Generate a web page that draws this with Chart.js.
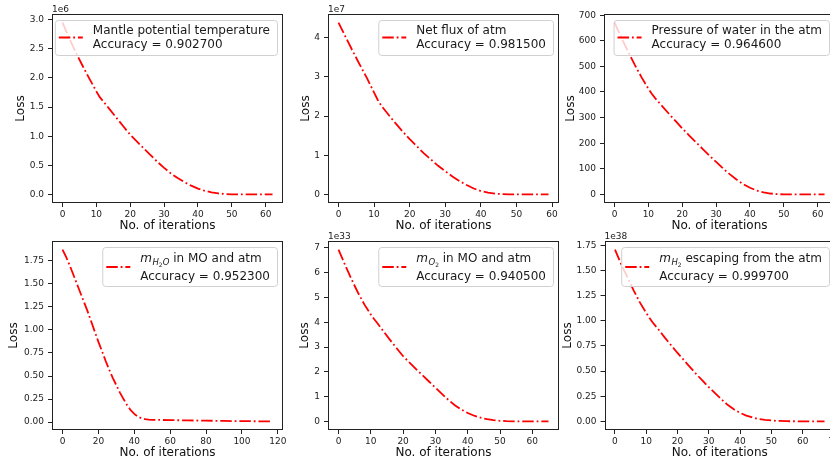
<!DOCTYPE html>
<html>
<head>
<meta charset="utf-8">
<script src="https://cdn.jsdelivr.net/npm/chart.js@4.4.1/dist/chart.umd.min.js"></script>
<style>
  html, body { margin: 0; padding: 0; background: #fff; overflow: hidden; }
  #fig { position: relative; width: 830px; height: 464px; }
  #fig canvas { position: absolute; }
</style>
</head>
<body>
<div id="fig"></div>
<script>
// ===================== Data =====================
// y values are in the units shown on each axis (see the exponent labels)
const itersMantle = [0, 2, 4, 6, 8, 10, 11, 12, 14, 16, 18, 20, 22, 24, 26, 28, 30, 32, 34, 36, 38, 40, 42, 44, 46, 48, 50, 55, 62];
const lossMantle = [2.95, 2.68, 2.43, 2.20, 1.98, 1.77, 1.67, 1.60, 1.455, 1.31, 1.165, 1.025, 0.905, 0.79, 0.675, 0.56, 0.455, 0.36, 0.28, 0.21, 0.15, 0.10, 0.062, 0.035, 0.017, 0.006, 0.001, 0, 0];

const itersFlux = [0, 2, 4, 6, 8, 10, 11, 12, 14, 16, 18, 20, 22, 24, 26, 28, 30, 32, 34, 36, 38, 40, 42, 44, 46, 48, 50, 55, 59];
const lossFlux = [4.39, 4.02, 3.66, 3.31, 2.97, 2.60, 2.42, 2.27, 2.04, 1.82, 1.61, 1.41, 1.23, 1.05, 0.89, 0.73, 0.59, 0.46, 0.34, 0.24, 0.15, 0.085, 0.045, 0.02, 0.008, 0.002, 0, 0, 0];

const itersWater = [0, 2, 4, 6, 8, 10, 11, 12, 14, 16, 18, 20, 22, 24, 26, 28, 30, 32, 34, 36, 38, 40, 42, 44, 46, 48, 50, 55, 62];
const lossWater = [671, 613, 558, 506, 457, 413, 393, 376, 346, 316, 287, 258, 231, 204, 178, 152, 127, 102, 79, 58, 40, 26, 15, 8, 3.5, 1, 0.2, 0, 0];

const itersH2O = [0, 2, 4, 6, 8, 10, 12, 14, 16, 18, 20, 22, 24, 26, 28, 30, 32, 34, 36, 38, 40, 42, 44, 46, 48, 50, 60, 70, 80, 90, 100, 110, 117];
const lossH2O = [1.87, 1.79, 1.70, 1.60, 1.50, 1.40, 1.30, 1.20, 1.09, 0.98, 0.87, 0.77, 0.665, 0.57, 0.48, 0.40, 0.32, 0.25, 0.185, 0.13, 0.09, 0.06, 0.042, 0.032, 0.027, 0.025, 0.022, 0.019, 0.016, 0.013, 0.011, 0.009, 0.008];

const itersO2 = [0, 2, 4, 6, 8, 10, 11, 12, 14, 16, 18, 20, 22, 24, 26, 28, 30, 32, 34, 36, 38, 40, 42, 44, 46, 48, 50, 52, 55, 65];
const lossO2 = [6.93, 6.32, 5.74, 5.20, 4.72, 4.31, 4.13, 3.97, 3.62, 3.28, 2.95, 2.63, 2.37, 2.11, 1.86, 1.61, 1.36, 1.11, 0.87, 0.65, 0.48, 0.34, 0.23, 0.15, 0.09, 0.05, 0.025, 0.01, 0.002, 0];

const itersH2 = [0, 2, 4, 6, 8, 10, 11, 12, 14, 16, 18, 20, 22, 24, 26, 28, 30, 32, 34, 36, 38, 40, 42, 44, 46, 48, 50, 52, 55, 60, 67];
const lossH2 = [1.707, 1.56, 1.43, 1.30, 1.18, 1.077, 1.03, 0.985, 0.91, 0.83, 0.755, 0.68, 0.61, 0.54, 0.47, 0.405, 0.34, 0.28, 0.22, 0.165, 0.12, 0.085, 0.058, 0.038, 0.024, 0.015, 0.009, 0.005, 0.002, 0.001, 0];

const legendNames = ['Mantle potential temperature', 'Net flux of atm', 'Pressure of water in the atm',
                     'm_{H2O} in MO and atm', 'm_{O2} in MO and atm', 'm_{H2} escaping from the atm'];
const accuracies = [0.902700, 0.981500, 0.964600, 0.952300, 0.940500, 0.999700];
const exponents = ['1e6', '1e7', '', '', '1e33', '1e38'];

// ===================== Ticks =====================
const xTicks60 = [0, 10, 20, 30, 40, 50, 60];
const xTicks70 = [0, 10, 20, 30, 40, 50, 60, 70];
const xTicks120 = [0, 20, 40, 60, 80, 100, 120];

const yTicksMantle = [0, 0.5, 1, 1.5, 2, 2.5, 3];
const yLabelsMantle = ['0.0', '0.5', '1.0', '1.5', '2.0', '2.5', '3.0'];
const yTicksFlux = [0, 1, 2, 3, 4];
const yLabelsFlux = ['0', '1', '2', '3', '4'];
const yTicksWater = [0, 100, 200, 300, 400, 500, 600, 700];
const yLabelsWater = ['0', '100', '200', '300', '400', '500', '600', '700'];
const yTicksQuarter = [0, 0.25, 0.5, 0.75, 1, 1.25, 1.5, 1.75];
const yLabelsQuarter = ['0.00', '0.25', '0.50', '0.75', '1.00', '1.25', '1.50', '1.75'];
const yTicksO2 = [0, 1, 2, 3, 4, 5, 6, 7];
const yLabelsO2 = ['0', '1', '2', '3', '4', '5', '6', '7'];

// ===================== Layout =====================
const FONT = "'DejaVu Sans', sans-serif";
const colLeft = [52, 328, 604];
const rowTop = [14, 241];
const boxW = 231, boxH = 189;
const padTop = 16, padRight = 10, xAxisH = 29;
const yTitleGap = [31, 22, 33, 38, 23, 36.5];
const DASH = [11.5, 2.9, 1.8, 2.9];

const panels = [
  { iters: itersMantle, loss: lossMantle, yTicks: yTicksMantle, yLabels: yLabelsMantle, xTicks: xTicks60 },
  { iters: itersFlux, loss: lossFlux, yTicks: yTicksFlux, yLabels: yLabelsFlux, xTicks: xTicks60 },
  { iters: itersWater, loss: lossWater, yTicks: yTicksWater, yLabels: yLabelsWater, xTicks: xTicks60 },
  { iters: itersH2O, loss: lossH2O, yTicks: yTicksQuarter, yLabels: yLabelsQuarter, xTicks: xTicks120 },
  { iters: itersO2, loss: lossO2, yTicks: yTicksO2, yLabels: yLabelsO2, xTicks: xTicks60 },
  { iters: itersH2, loss: lossH2, yTicks: yTicksQuarter, yLabels: yLabelsQuarter, xTicks: xTicks70 }
];

// ===================== Legend helpers =====================
// draws "m_{H2O} rest" style labels; returns the width
function drawLabel(ctx, text, x, y, draw) {
  const m = text.match(/^m_\{(\w+)\}(.*)$/);
  let cx = x;
  if (!m) {
    ctx.font = `12px ${FONT}`;
    if (draw) ctx.fillText(text, cx, y);
    return ctx.measureText(text).width;
  }
  ctx.font = `italic 12px ${FONT}`;
  if (draw) ctx.fillText('m', cx, y);
  cx += ctx.measureText('m').width + 0.5;
  for (const ch of m[1]) {
    if (/\d/.test(ch)) {
      ctx.font = `6px ${FONT}`;
      if (draw) ctx.fillText(ch, cx, y + 5);
    } else {
      ctx.font = `italic 8.5px ${FONT}`;
      if (draw) ctx.fillText(ch, cx, y + 3);
    }
    cx += ctx.measureText(ch).width;
  }
  ctx.font = `12px ${FONT}`;
  if (draw) ctx.fillText(m[2], cx, y);
  cx += ctx.measureText(m[2]).width;
  return cx - x;
}

const framePlugin = {
  id: 'frameAndLegend',
  afterDatasetsDraw(chart, args, opts) {
    const { ctx, chartArea: a } = chart;
    ctx.save();
    // axes frame
    ctx.strokeStyle = '#222';
    ctx.lineWidth = 1;
    ctx.strokeRect(Math.round(a.left) + 0.5, Math.round(a.top) + 0.5,
                   Math.round(a.right - a.left) - 1, Math.round(a.bottom - a.top) - 1);
    // exponent label
    if (opts.exponent) {
      ctx.font = `9px ${FONT}`;
      ctx.fillStyle = '#222';
      ctx.textBaseline = 'alphabetic';
      ctx.fillText(opts.exponent, a.left, a.top - 2.5);
    }
    // legend
    const isMath = opts.name.startsWith('m_');
    const line2 = 'Accuracy = ' + opts.acc.toFixed(6);
    ctx.textBaseline = 'alphabetic';
    const w1 = drawLabel(ctx, opts.name, 0, 0, false);
    ctx.font = `12px ${FONT}`;
    const w2 = ctx.measureText(line2).width;
    const w = 4 + 24 + 10 + Math.max(w1, w2) + 7;
    const h = isMath ? 39 : 35;
    const lx = a.right - 6 - w;
    const ly = a.top + 6;
    ctx.beginPath();
    ctx.roundRect(lx + 0.5, ly + 0.5, w, h, 3);
    ctx.fillStyle = 'rgba(255,255,255,0.8)';
    ctx.fill();
    ctx.strokeStyle = '#d0d0d0';
    ctx.stroke();
    // handle
    const hy = ly + (isMath ? 20 : 17.5);
    ctx.beginPath();
    ctx.setLineDash(DASH);
    ctx.strokeStyle = '#ff0000';
    ctx.lineWidth = 1.8;
    ctx.moveTo(lx + 4, hy);
    ctx.lineTo(lx + 28, hy);
    ctx.stroke();
    ctx.setLineDash([]);
    // text
    ctx.fillStyle = '#1a1a1a';
    const tx = lx + 38;
    drawLabel(ctx, opts.name, tx, ly + (isMath ? 15.3 : 14), true);
    ctx.font = `12px ${FONT}`;
    ctx.fillText(line2, tx, ly + (isMath ? 32.7 : 28.3));
    ctx.restore();
  }
};

function paddedRange(vals) {
  const lo = Math.min(...vals), hi = Math.max(...vals);
  const m = (hi - lo) * 0.05;
  return [lo - m, hi + m];
}

// ===================== Charts =====================
function buildPanel(p, i) {
  const col = i % 3, row = Math.floor(i / 3);
  const yw = yTitleGap[i] + 6;
  const canvas = document.createElement('canvas');
  const cw = yw + boxW + padRight;
  const chH = padTop + boxH + xAxisH;
  canvas.width = cw;
  canvas.height = chH;
  canvas.style.left = (colLeft[col] - yw) + 'px';
  canvas.style.top = (rowTop[row] - padTop) + 'px';
  canvas.style.width = cw + 'px';
  canvas.style.height = chH + 'px';
  document.getElementById('fig').appendChild(canvas);

  const [xMin, xMax] = paddedRange(p.iters);
  const [yMin, yMax] = paddedRange(p.loss);
  const tickFont = { family: FONT, size: 9 };
  const grid = { display: true, drawOnChartArea: false, drawTicks: true, tickLength: 4, color: '#222' };

  new Chart(canvas.getContext('2d'), {
    type: 'line',
    data: {
      datasets: [{
        data: p.iters.map((x, k) => ({ x: x, y: p.loss[k] })),
        borderColor: '#ff0000',
        borderWidth: 1.8,
        borderDash: DASH,
        borderCapStyle: 'butt',
        pointRadius: 0,
        tension: 0,
        fill: false
      }]
    },
    options: {
      responsive: false,
      animation: false,
      devicePixelRatio: 1,
      layout: { padding: { top: padTop, right: padRight, left: 0, bottom: 0 } },
      plugins: {
        legend: { display: false },
        tooltip: { enabled: false },
        frameAndLegend: { name: legendNames[i], acc: accuracies[i], exponent: exponents[i] }
      },
      scales: {
        x: {
          type: 'linear',
          min: xMin,
          max: xMax,
          grid: grid,
          border: { display: false },
          afterBuildTicks: s => { s.ticks = p.xTicks.map(v => ({ value: v })); },
          afterFit: s => { s.height = xAxisH; },
          ticks: { font: tickFont, color: '#222', padding: 2, maxRotation: 0, autoSkip: false,
                   callback: v => String(v) },
          title: { display: true, text: 'No. of iterations', color: '#111',
                   font: { family: FONT, size: 12, lineHeight: 1 }, padding: 0 }
        },
        y: {
          type: 'linear',
          min: yMin,
          max: yMax,
          grid: grid,
          border: { display: false },
          afterBuildTicks: s => { s.ticks = p.yTicks.map(v => ({ value: v })); },
          afterFit: s => { s.width = yw; },
          ticks: { font: tickFont, color: '#222', padding: 4, autoSkip: false,
                   callback: (v, k) => p.yLabels[k] },
          title: { display: true, text: 'Loss', color: '#111',
                   font: { family: FONT, size: 12, lineHeight: 1 }, padding: 0 }
        }
      }
    },
    plugins: [framePlugin]
  });
}

panels.forEach(buildPanel);
</script>
</body>
</html>
